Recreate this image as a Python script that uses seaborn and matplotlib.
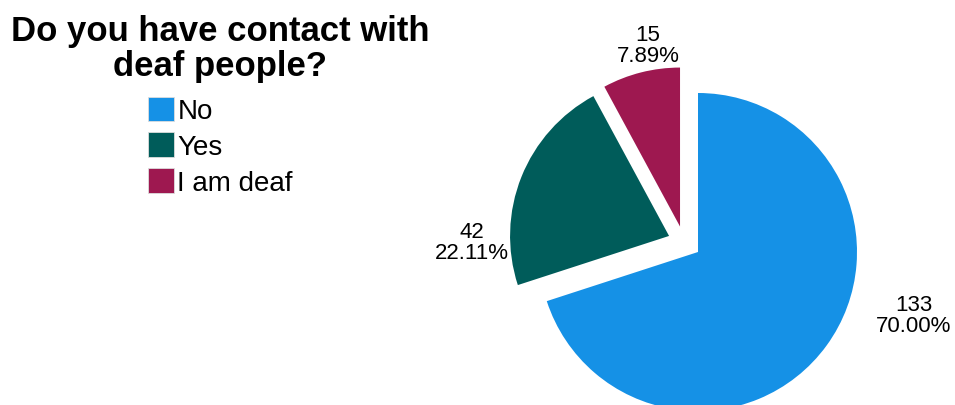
import matplotlib
matplotlib.use("Agg")
import matplotlib.pyplot as plt
import seaborn as sns

categories = ["No", "Yes", "I am deaf"]
counts = [133, 42, 15]
percents = [70.00, 22.11, 7.89]
colors = ["#1591E6", "#005C5A", "#9E1850"]

sns.set_theme(style="white")
plt.rcParams["font.family"] = ["Liberation Sans", "DejaVu Sans"]

W, H, R = 955, 406, 159.0
cx, cy = 698, 253  # pixel center (from top-left)

fig = plt.figure(figsize=(W / 100, H / 100), dpi=100)
ax = fig.add_axes([0, 0, 1, 1])
wedges, _ = ax.pie(counts, colors=colors, startangle=90,
                   counterclock=False, radius=1.0,
                   wedgeprops=dict(linewidth=0))
# slice offsets (explode) in radius units
offsets = [(0.0, 0.0), (-0.182, 0.101), (-0.113, 0.160)]
for w, off in zip(wedges, offsets):
    w.set_center(off)

ax.set_xlim(-cx / R, (W - cx) / R)
ax.set_ylim(-(H - cy) / R, cy / R)
ax.set_aspect("auto")
ax.axis("off")

label_pos = [(1.358, -0.396), (-1.425, 0.063), (-0.314, 1.299)]
for (x, y), c, p in zip(label_pos, counts, percents):
    ax.text(x, y, f"{c}\n{p:.2f}%", ha="center", va="center",
            fontsize=16, linespacing=1.0, color="black")

fig.text(220 / W, 1 - 49 / H, "Do you have contact with\ndeaf people?",
         ha="center", va="center", fontsize=25, fontweight="bold",
         linespacing=1.08, color="black")

leg = fig.legend(wedges, categories, loc="upper left",
                 bbox_to_anchor=(142 / W, 1 - 92 / H), frameon=False,
                 fontsize=20, handlelength=0.95, handleheight=1.0,
                 handletextpad=0.12, labelspacing=0.28, borderpad=0.2,
                 borderaxespad=0, labelcolor="black")
for h in leg.legend_handles:
    h.set_edgecolor("#dddddd")
    h.set_linewidth(0.6)

fig.savefig("out.png", dpi=100)
